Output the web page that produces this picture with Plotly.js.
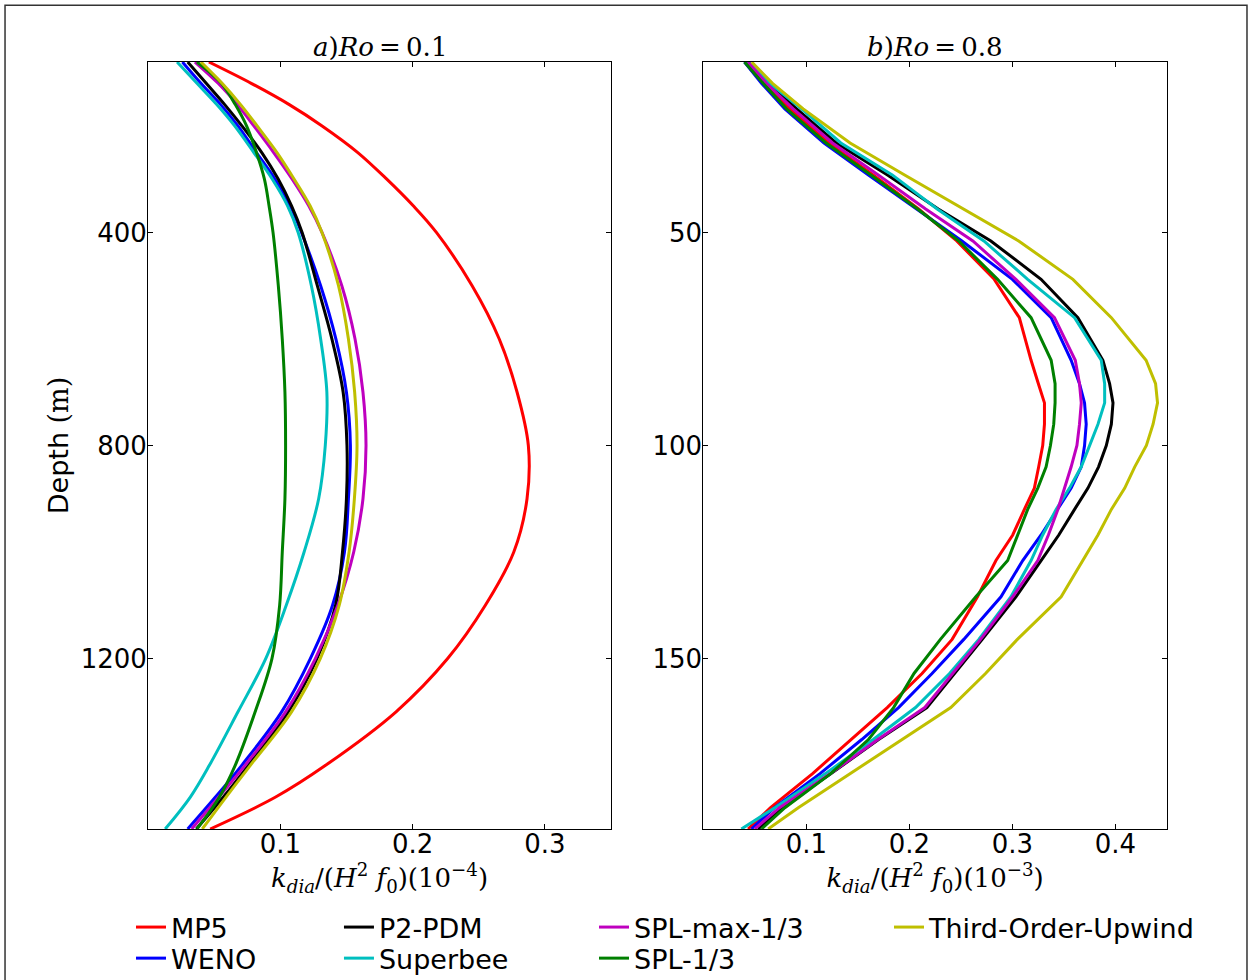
<!DOCTYPE html>
<html><head><meta charset="utf-8">
<script src="https://cdn.plot.ly/plotly-3.0.1.min.js"></script>
<style>html,body{margin:0;padding:0;background:#fff}#chart{width:1252px;height:980px}</style>
</head><body><div id="chart"></div>
<script>
// ---- panel a) Ro = 0.1 : depth (m) ----
const depthA = [80, 120, 160, 200, 250, 300, 350, 400, 500, 600, 700, 800, 900, 1000, 1100, 1200, 1300, 1400, 1460, 1520];
const mp5A    = [0.046, 0.078, 0.1068, 0.1316, 0.1586, 0.1805, 0.2005, 0.2180, 0.2450, 0.2655, 0.2790, 0.2875, 0.2865, 0.2765, 0.2550, 0.2265, 0.1875, 0.1345, 0.0965, 0.047];
const wenoA   = [0.026, 0.040, 0.055, 0.068, 0.082, 0.096, 0.1075, 0.116, 0.1305, 0.142, 0.150, 0.153, 0.1515, 0.1485, 0.1395, 0.1227, 0.101, 0.071, 0.051, 0.030];
const p2pdmA  = [0.030, 0.044, 0.058, 0.071, 0.086, 0.0985, 0.1085, 0.1165, 0.128, 0.139, 0.1475, 0.1504, 0.150, 0.147, 0.1418, 0.1277, 0.106, 0.076, 0.057, 0.0365];
const superA  = [0.022, 0.037, 0.052, 0.0655, 0.080, 0.094, 0.1055, 0.1135, 0.1235, 0.1305, 0.1352, 0.1340, 0.1290, 0.1180, 0.1045, 0.0890, 0.0680, 0.0465, 0.0320, 0.0130];
const splMaxA = [0.0355, 0.053, 0.0675, 0.080, 0.0950, 0.1090, 0.1215, 0.1315, 0.1465, 0.1565, 0.1625, 0.1648, 0.1625, 0.1555, 0.1435, 0.1265, 0.1040, 0.0735, 0.0535, 0.0330];
const splA    = [0.037, 0.0555, 0.066, 0.0745, 0.082, 0.088, 0.0915, 0.0945, 0.0985, 0.1015, 0.1035, 0.104, 0.1035, 0.1015, 0.0995, 0.0937, 0.081, 0.066, 0.054, 0.037];
const touA    = [0.040, 0.056, 0.070, 0.0825, 0.0975, 0.1105, 0.1225, 0.1315, 0.1440, 0.1515, 0.1562, 0.1580, 0.1560, 0.1520, 0.1445, 0.1302, 0.1085, 0.0775, 0.059, 0.041];

// ---- panel b) Ro = 0.8 : depth (m) ----
const depthB = [10, 15, 21, 29, 36.5, 44.5, 52, 61, 70, 80, 85.5, 90, 95, 100, 105, 110, 115, 121, 127, 135.5, 145.5, 153.5, 161.5, 169, 177, 185, 190];
const mp5B    = [0.0435, 0.0597, 0.0841, 0.1217, 0.1649, 0.2090, 0.2460, 0.2824, 0.3067, 0.3181, 0.3252, 0.3311, 0.3311, 0.3294, 0.3255, 0.3213, 0.3116, 0.3003, 0.2840, 0.2661, 0.2415, 0.2123, 0.1785, 0.1435, 0.1061, 0.0653, 0.0435];
const wenoB   = [0.040, 0.0565, 0.0792, 0.1172, 0.1603, 0.2067, 0.2510, 0.3000, 0.3376, 0.3570, 0.3651, 0.3700, 0.3716, 0.3700, 0.3668, 0.3570, 0.3441, 0.3278, 0.3100, 0.2889, 0.2528, 0.2220, 0.1895, 0.1538, 0.1133, 0.0691, 0.0467];
const p2pdmB  = [0.0435, 0.063, 0.0906, 0.1290, 0.1788, 0.2280, 0.2791, 0.3278, 0.3635, 0.3878, 0.3943, 0.3976, 0.3960, 0.3911, 0.3836, 0.3733, 0.3603, 0.3450, 0.3278, 0.3034, 0.2707, 0.2440, 0.2170, 0.1701, 0.1240, 0.0760, 0.0532];
const superB  = [0.0435, 0.0646, 0.0954, 0.1335, 0.1834, 0.2270, 0.2723, 0.3148, 0.3603, 0.3862, 0.3895, 0.3895, 0.3830, 0.3749, 0.3668, 0.3554, 0.3424, 0.3294, 0.3181, 0.2986, 0.2674, 0.2390, 0.2060, 0.1649, 0.1185, 0.0695, 0.0370];
const splMaxB = [0.0435, 0.0613, 0.0873, 0.1255, 0.1698, 0.2158, 0.2616, 0.3034, 0.3408, 0.3610, 0.3651, 0.3668, 0.3651, 0.3626, 0.3570, 0.3505, 0.3441, 0.3349, 0.3246, 0.3003, 0.2691, 0.2420, 0.2150, 0.1694, 0.1234, 0.0740, 0.0500];
const splB    = [0.040, 0.058, 0.0808, 0.1191, 0.1626, 0.2080, 0.2479, 0.2856, 0.3181, 0.3376, 0.3414, 0.3414, 0.3401, 0.3369, 0.3327, 0.3246, 0.3148, 0.3051, 0.2954, 0.2645, 0.2301, 0.2045, 0.1847, 0.1603, 0.1237, 0.0792, 0.0565];
const touB    = [0.047, 0.0672, 0.0970, 0.1425, 0.1954, 0.2528, 0.3061, 0.3587, 0.3960, 0.4297, 0.4389, 0.4408, 0.4365, 0.4300, 0.4187, 0.4090, 0.3960, 0.3830, 0.3684, 0.3473, 0.3048, 0.2739, 0.2402, 0.1928, 0.1418, 0.0922, 0.0630];

const seriesNames = ['MP5', 'WENO', 'P2-PDM', 'Superbee', 'SPL-max-1/3', 'SPL-1/3', 'Third-Order-Upwind'];
const seriesA = [mp5A, wenoA, p2pdmA, superA, splMaxA, splA, touA];
const seriesB = [mp5B, wenoB, p2pdmB, superB, splMaxB, splB, touB];
const seriesColors = ['#ff0000', '#0000ff', '#000000', '#00bfbf', '#bf00bf', '#008000', '#bfbf00'];
// legend grid (4 columns x 2 rows, filled column by column)
const legendCol = [0, 0, 1, 1, 2, 2, 3];
const legendRow = [0, 1, 0, 1, 0, 1, 0];

const xTicksA = [0.1, 0.2, 0.3];
const yTicksA = [400, 800, 1200];
const xTicksB = [0.1, 0.2, 0.3, 0.4];
const yTicksB = [50, 100, 150];

const legendIds = seriesNames.map((_, i) => i === 0 ? 'legend' : 'legend' + (i + 1));

const traces = [];
seriesNames.forEach((nm, i) => {
  traces.push({type: 'scatter', mode: 'lines', name: nm, x: seriesA[i], y: depthA,
    xaxis: 'x', yaxis: 'y', line: {color: seriesColors[i], width: 3, shape: 'spline', smoothing: 1},
    legend: legendIds[i], showlegend: true});
});
seriesNames.forEach((nm, i) => {
  traces.push({type: 'scatter', mode: 'lines', name: nm, x: seriesB[i], y: depthB,
    xaxis: 'x2', yaxis: 'y2', line: {color: seriesColors[i], width: 3},
    showlegend: false});
});

const tickFont = {family: 'DejaVu Sans', size: 26, color: '#000'};
const mathFont = {family: 'DejaVu Serif', size: 26, color: '#000'};
const axBase = {showline: true, linecolor: '#000', linewidth: 1, mirror: 'ticks',
  ticks: 'inside', ticklen: 5, tickcolor: '#000', showgrid: false, zeroline: false,
  tickfont: tickFont};

const xTitleA = '<i>k</i><sub><i>dia</i></sub>/(<i>H</i><sup>2</sup> <i>f</i><sub>0</sub>)(10<sup>−4</sup>)';
const xTitleB = '<i>k</i><sub><i>dia</i></sub>/(<i>H</i><sup>2</sup> <i>f</i><sub>0</sub>)(10<sup>−3</sup>)';

const colX = [-0.0167, 0.1874, 0.4377, 0.7272];
const rowY = [-0.0965, -0.1370];

const layout = {
  width: 1252, height: 980,
  margin: {l: 148, r: 85, t: 62, b: 151, pad: 0, autoexpand: false},
  paper_bgcolor: '#fff', plot_bgcolor: '#fff',
  showlegend: true,
  xaxis: Object.assign({}, axBase, {domain: [0, 0.4544], range: [0, 0.35], tickvals: xTicksA,
    anchor: 'y', ticklabelstandoff: -8, title: {text: xTitleA, font: mathFont, standoff: 2}}),
  yaxis: Object.assign({}, axBase, {domain: [0, 1], range: [1520, 80], tickvals: yTicksA,
    anchor: 'x', ticklabelstandoff: -5,
    title: {text: 'Depth <span style="font-family:DejaVu Serif">(m)</span>',
      font: {family: 'DejaVu Sans', size: 27, color: '#000'}, standoff: 4}}),
  xaxis2: Object.assign({}, axBase, {domain: [0.5449, 1], range: [0, 0.45], tickvals: xTicksB,
    anchor: 'y2', ticklabelstandoff: -8, title: {text: xTitleB, font: mathFont, standoff: 2}}),
  yaxis2: Object.assign({}, axBase, {domain: [0, 1], range: [190, 10], tickvals: yTicksB,
    anchor: 'x2', ticklabelstandoff: -5}),
  annotations: [
    {xref: 'x domain', yref: 'y domain', x: 0.5, y: 1.019, xanchor: 'center', yanchor: 'middle',
     showarrow: false, text: '<i>a</i>)<i>Ro</i>\u2009=\u20090.1', font: {family: 'DejaVu Serif', size: 26, color: '#000'}},
    {xref: 'x2 domain', yref: 'y2 domain', x: 0.5, y: 1.019, xanchor: 'center', yanchor: 'middle',
     showarrow: false, text: '<i>b</i>)<i>Ro</i>\u2009=\u20090.8', font: {family: 'DejaVu Serif', size: 26, color: '#000'}}
  ],
  shapes: [
    {type: 'rect', xref: 'paper', yref: 'paper', x0: -0.1403, x1: 1.0785, y0: -0.25, y1: 1.0739,
     line: {color: '#333', width: 1.5}, fillcolor: 'rgba(0,0,0,0)', layer: 'below'}
  ]
};

legendIds.forEach((id, i) => {
  layout[id] = {orientation: 'v', xanchor: 'left', yanchor: 'top', bgcolor: 'rgba(0,0,0,0)',
    borderwidth: 0, font: {family: 'DejaVu Sans', size: 27, color: '#000'},
    x: colX[legendCol[i]], y: rowY[legendRow[i]]};
});

Plotly.newPlot('chart', traces, layout, {displayModeBar: false, staticPlot: true});
</script></body></html>
